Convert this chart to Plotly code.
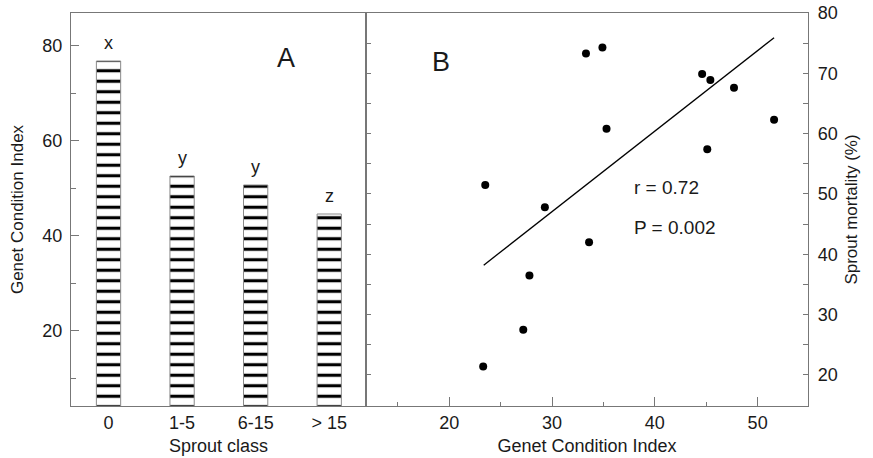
import plotly.graph_objects as go

# Panel A data
sprout_classes = ["0", "1-5", "6-15", "> 15"]
gci_means = [76.8, 52.6, 50.7, 44.6]
group_letters = ["x", "y", "y", "z"]

# Panel B data
gci_values = [23.3, 23.5, 27.2, 27.8, 29.3, 33.3, 34.9, 33.6, 35.3, 44.6, 45.4, 45.1, 47.7, 51.6]
mortality = [21.4, 51.5, 27.5, 36.5, 47.8, 73.3, 74.3, 42.0, 60.8, 69.9, 68.9, 57.4, 67.6, 62.3]
fit_x = [23.35, 51.6]
fit_y = [38.2, 75.9]

FONT = "Liberation Sans, Arial, Helvetica, sans-serif"
TXT = "#1a1a1a"
AX = "#777777"

fig = go.Figure()

fig.add_trace(go.Bar(
    x=sprout_classes, y=gci_means, width=0.33,
    marker=dict(color="white", line=dict(color="#8a8a8a", width=1),
                pattern=dict(shape="-", fgcolor="black", bgcolor="white", fgopacity=1,
                             size=10.5, solidity=0.3)),
    xaxis="x", yaxis="y", showlegend=False))

fig.add_trace(go.Scatter(
    x=gci_values, y=mortality, mode="markers",
    marker=dict(color="black", size=8),
    xaxis="x2", yaxis="y2", showlegend=False))

fig.add_trace(go.Scatter(
    x=fit_x, y=fit_y, mode="lines",
    line=dict(color="black", width=1.3),
    xaxis="x2", yaxis="y2", showlegend=False))

annotations = []
for c, v, t in zip(sprout_classes, gci_means, group_letters):
    annotations.append(dict(x=c, y=v, xref="x", yref="y", text=t, showarrow=False,
                            yanchor="bottom", yshift=6, font=dict(size=18, color=TXT)))

annotations += [
    dict(x=0.2917, y=0.8855, xref="paper", yref="paper", text="A", showarrow=False,
         xanchor="center", yanchor="middle", font=dict(size=27, color=TXT)),
    dict(x=0.5025, y=0.876, xref="paper", yref="paper", text="B", showarrow=False,
         xanchor="center", yanchor="middle", font=dict(size=27, color=TXT)),
    dict(x=0.761, y=0.557, xref="paper", yref="paper", text="r = 0.72", showarrow=False,
         xanchor="left", yanchor="middle", font=dict(size=19, color=TXT)),
    dict(x=0.761, y=0.453, xref="paper", yref="paper", text="P = 0.002", showarrow=False,
         xanchor="left", yanchor="middle", font=dict(size=19, color=TXT)),
]

split = (366 - 71) / 737

fig.update_layout(
    width=873, height=458,
    margin=dict(l=71, r=65, t=13, b=52),
    paper_bgcolor="white", plot_bgcolor="white",
    font=dict(family=FONT, size=17, color=TXT),
    annotations=annotations,
    xaxis=dict(domain=[0, split], range=[-0.51, 3.5], type="category", automargin=False,
               showline=True, linecolor=AX, linewidth=1.3, mirror=True,
               ticks="", showgrid=False, zeroline=False, tickfont=dict(size=18),
               title=dict(text="Sprout class", standoff=7, font=dict(size=18))),
    yaxis=dict(domain=[0, 1], range=[4.2, 86.9], anchor="x", automargin=False,
               tickvals=[20, 40, 60, 80], ticks="inside", ticklen=8, tickcolor=AX,
               minor=dict(tickvals=[10, 30, 50, 70], ticks="inside", ticklen=5, tickcolor=AX),
               showline=True, linecolor=AX, linewidth=1.3, mirror=True, tickfont=dict(size=18),
               ticklabelstandoff=4,
               showgrid=False, zeroline=False,
               title=dict(text="Genet Condition Index", standoff=14, font=dict(size=17))),
    xaxis2=dict(domain=[split, 1], range=[11.9, 54.9], anchor="y2", automargin=False,
                tickvals=[20, 30, 40, 50], ticks="inside", ticklen=9, tickcolor=AX,
                minor=dict(tickvals=[15, 25, 35, 45], ticks="inside", ticklen=4, tickcolor=AX),
                showline=True, linecolor=AX, linewidth=1.3, mirror=True, tickfont=dict(size=18),
                showgrid=False, zeroline=False,
                title=dict(text="Genet Condition Index", standoff=7, font=dict(size=18))),
    yaxis2=dict(domain=[0, 1], range=[14.85, 80], anchor="x2", side="right", automargin=False,
                tickvals=[20, 25, 30, 35, 40, 45, 50, 55, 60, 65, 70, 75, 80],
                ticktext=["20", "", "30", "", "40", "", "50", "", "60", "", "70", "", "80"],
                ticks="inside", ticklen=5, tickcolor=AX, tickfont=dict(size=18),
                ticklabelstandoff=5,
                showline=True, linecolor=AX, linewidth=1.3, mirror="ticks",
                showgrid=False, zeroline=False,
                title=dict(text="Sprout mortality (%)", standoff=8, font=dict(size=17))),
)

fig.write_html("out.html", config={"displayModeBar": False},
               post_script="document.body.style.margin='0';document.body.style.padding='0';")
